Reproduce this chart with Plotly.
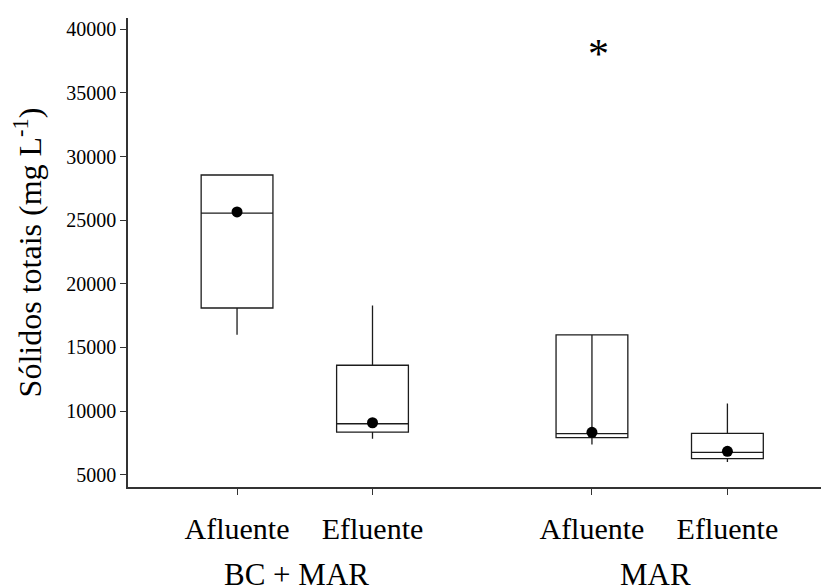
import plotly.graph_objects as go

# ---- data ----
categories = ["Afluente", "Efluente", "Afluente", "Efluente"]
groups = ["BC + MAR", "MAR"]
x_pos = [0, 1, 2.62, 3.62]
q1 = [18100, 8350, 7910, 6260]
median = [25550, 9000, 8220, 6750]
q3 = [28550, 13600, 15980, 8250]
lower_whisker = [16000, 7830, 7380, 5990]
upper_whisker = [28550, 18300, 15980, 10600]
means = [25650, 9080, 8330, 6830]
outlier_x = [2.62]
outlier_y = [38400]
inner_line_idx = 2  # box with a vertical line drawn through it
y_ticks = [5000, 10000, 15000, 20000, 25000, 30000, 35000, 40000]

FONT = "Liberation Serif"
LINE = "#1c1c1c"

fig = go.Figure()

for i in range(len(categories)):
    fig.add_trace(go.Box(
        x=[x_pos[i]],
        q1=[q1[i]], median=[median[i]], q3=[q3[i]],
        lowerfence=[lower_whisker[i]], upperfence=[upper_whisker[i]],
        width=0.53, whiskerwidth=0,
        fillcolor="rgba(255,255,255,0)",
        line=dict(color=LINE, width=1.3),
        boxpoints=False, showlegend=False, hoverinfo="skip",
    ))

# vertical line through one box
fig.add_trace(go.Scatter(
    x=[x_pos[inner_line_idx], x_pos[inner_line_idx]],
    y=[q1[inner_line_idx], q3[inner_line_idx]],
    mode="lines", line=dict(color=LINE, width=1.3),
    showlegend=False, hoverinfo="skip",
))

# means
fig.add_trace(go.Scatter(
    x=x_pos, y=means, mode="markers",
    marker=dict(color="black", size=11),
    showlegend=False, hoverinfo="skip",
))

# outlier asterisk
for ox, oy in zip(outlier_x, outlier_y):
    fig.add_annotation(x=ox, y=oy, xref="x", yref="y", text="*",
                       showarrow=False, xshift=7, yshift=-4,
                       font=dict(family=FONT, size=42, color="black"))

# group labels
group_centers = [(x_pos[0] + x_pos[1]) / 2, (x_pos[2] + x_pos[3]) / 2]
group_shift = [-8, -4]
for g, gx, sx in zip(groups, group_centers, group_shift):
    fig.add_annotation(x=gx, y=0, xref="x", yref="paper", text=g,
                       showarrow=False, yanchor="top", yshift=-68, xshift=sx,
                       font=dict(family=FONT, size=31, color="black"))

fig.update_layout(
    width=829, height=587,
    margin=dict(l=120, r=8, t=10, b=108),
    paper_bgcolor="white", plot_bgcolor="white",
    font=dict(family=FONT, color="black"),
    showlegend=False,
)
fig.update_xaxes(
    range=[-0.805, 4.37],
    tickvals=x_pos, ticktext=categories,
    ticks="outside", ticklen=6, tickwidth=1.2, tickcolor="#333",
    showline=True, linecolor="#333", linewidth=1.5,
    showgrid=False, zeroline=False, automargin=False,
    tickfont=dict(family=FONT, size=30, color="black"),
    ticklabelstandoff=8,
)
fig.update_yaxes(
    range=[4030, 40890],
    tickvals=y_ticks, ticktext=[str(v) for v in y_ticks],
    ticks="outside", ticklen=6, tickwidth=1.2, tickcolor="#333",
    showline=True, linecolor="#333", linewidth=1.5,
    showgrid=False, zeroline=False, automargin=False,
    tickfont=dict(family=FONT, size=20, color="black"),
    title=dict(text="Sólidos totais (mg L<sup>-1</sup>)",
               font=dict(family=FONT, size=32, color="black"), standoff=24),
)

fig.write_html("out.html")
